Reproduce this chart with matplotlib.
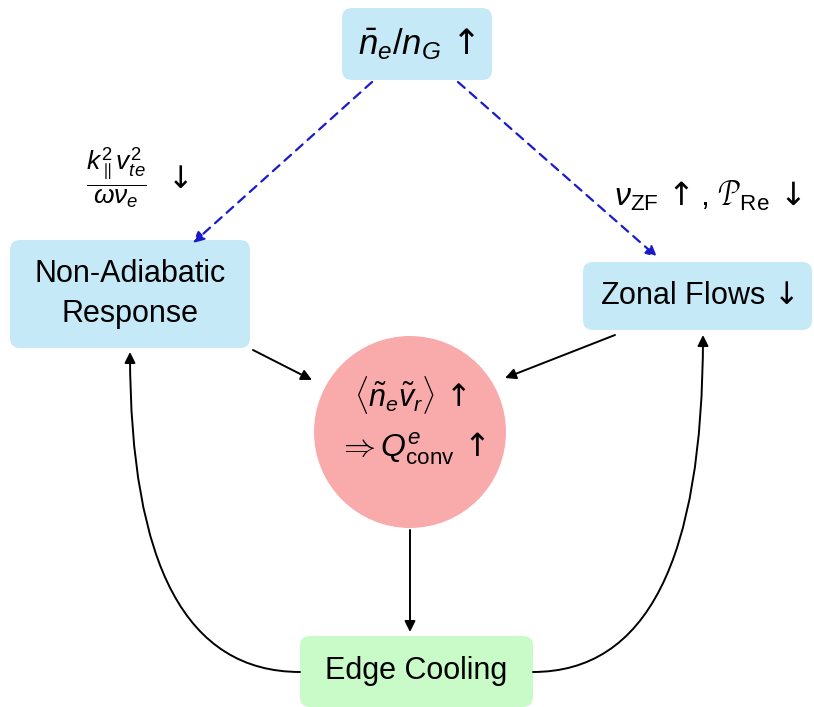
import matplotlib.pyplot as plt
from matplotlib.patches import FancyBboxPatch, Circle, FancyArrowPatch

plt.rcParams['font.family'] = ['Liberation Sans', 'DejaVu Sans']
plt.rcParams['mathtext.fontset'] = 'custom'
plt.rcParams['mathtext.rm'] = 'Liberation Sans'
plt.rcParams['mathtext.it'] = 'Liberation Sans:italic'
plt.rcParams['mathtext.bf'] = 'Liberation Sans:bold'
plt.rcParams['mathtext.sf'] = 'DejaVu Sans'

blue = '#c6e9f8'
green = '#c8fbc8'
pink = '#f9aaaa'
UP = r'\,\mathsf{\uparrow}'
DN = r'\,\mathsf{\downarrow}'

# boxes: label, x0, y0, x1, y1, colour (pixel coords, y down)
box_labels = [r'$\bar{n}_e/n_G' + UP + '$', 'Non-Adiabatic\nResponse',
              r'Zonal Flows$' + DN + '$', 'Edge Cooling']
box_x0 = [342, 10, 583, 300]
box_y0 = [8, 240, 262, 636]
box_x1 = [492, 250, 812, 533]
box_y1 = [80, 348, 330, 707]
box_col = [blue, blue, blue, green]
box_fs = [25, 22, 22, 22]

fig = plt.figure(figsize=(8.14, 7.07), dpi=100)
ax = fig.add_axes([0, 0, 1, 1])
ax.set_xlim(0, 814)
ax.set_ylim(707, 0)
ax.axis('off')

for lab, x0, y0, x1, y1, c, fs in zip(box_labels, box_x0, box_y0, box_x1, box_y1, box_col, box_fs):
    ax.add_patch(FancyBboxPatch((x0 + 10, y0 + 10), x1 - x0 - 20, y1 - y0 - 20,
                                boxstyle='round,pad=10', fc=c, ec='none', zorder=1))
    ax.text((x0 + x1) / 2, (y0 + y1) / 2, lab, ha='center', va='center',
            fontsize=fs, linespacing=1.45, zorder=3)

ax.add_patch(Circle((410, 432), 96, fc=pink, ec='none', zorder=1))
ax.text(410, 395, r'$\langle\tilde{n}_e\tilde{v}_r\rangle' + UP + '$', ha='center', va='center', fontsize=22, zorder=3)
ax.text(412, 449, r'$\Rightarrow Q^e_{\rm conv}' + UP + '$', ha='center', va='center', fontsize=23, zorder=3)

ax.text(116, 178, r'$\dfrac{k_\parallel^2 v_{te}^2}{\omega\nu_e}$', ha='center', va='center', fontsize=19)
ax.text(175, 180, r'$\mathsf{\downarrow}$', ha='center', va='center', fontsize=22)
ax.text(708, 196, r'$\nu_{\rm ZF}' + UP + r',\,\mathcal{P}_{\rm Re}' + DN + '$', ha='center', va='center', fontsize=23)

def arrow(p0, p1, **kw):
    ax.add_patch(FancyArrowPatch(p0, p1, mutation_scale=16, shrinkA=0, shrinkB=0, zorder=2, **kw))

arrow((372, 82), (193, 243), arrowstyle='-|>', color='#1a1acc', ls=(0, (4, 3)), lw=1.6)
arrow((458, 82), (657, 257), arrowstyle='-|>', color='#1a1acc', ls=(0, (4, 3)), lw=1.6)
arrow((253, 350), (312, 380), arrowstyle='-|>', color='k', lw=1.4)
arrow((615, 335), (505, 378), arrowstyle='-|>', color='k', lw=1.4)
arrow((410, 530), (410, 632), arrowstyle='-|>', color='k', lw=1.4)
arrow((300, 672), (130, 352), arrowstyle='-|>', color='k', lw=1.4, connectionstyle='angle3,angleA=0,angleB=90')
arrow((533, 672), (703, 335), arrowstyle='-|>', color='k', lw=1.4, connectionstyle='angle3,angleA=0,angleB=90')

fig.savefig('out.png', dpi=100)
